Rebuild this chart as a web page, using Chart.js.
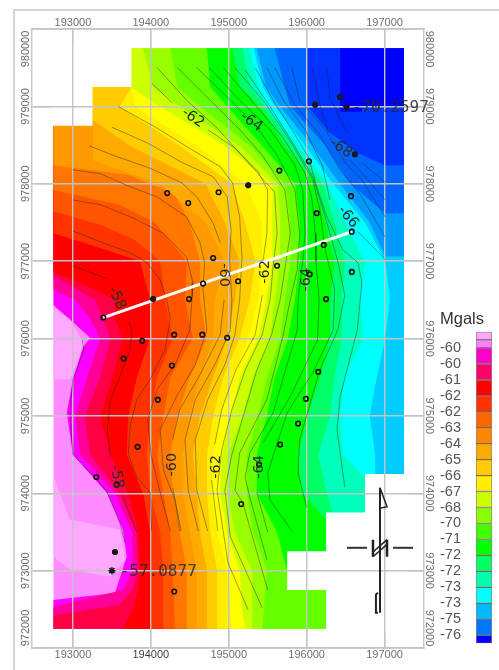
<!DOCTYPE html>
<html>
<head>
<meta charset="utf-8">
<title>Mgals contour map</title>
<script src="https://cdn.jsdelivr.net/npm/chart.js@4"></script>
<style>
    html, body { margin: 0; padding: 0; background: #fff; }
    #frame { position: absolute; left: 13px; top: 9px; width: 486px; height: 661px; border-top: 2px solid #d4d4d4; border-left: 2px solid #d4d4d4; box-sizing: border-box; filter: blur(0.4px); }
    canvas { position: absolute; filter: blur(0.45px); }
    #mapChart { left: 0; top: 0; }
    #scaleChart { left: 432px; top: 307px; }
</style>
</head>
<body>
<div id="frame"></div>
<canvas id="mapChart" width="499" height="670"></canvas>
<canvas id="scaleChart" width="67" height="352"></canvas>
<script>
const tickX = [193000, 194000, 195000, 196000, 197000];
const tickY = [972000, 973000, 974000, 975000, 976000, 977000, 978000, 979000, 980000];

// grid extent of the coloured surface
const west = 192750;
const east = 197250;
const north = 979750;
const south = 972250;

// colour bands, west to east: each edge is where that colour starts
const bandColors = ['#ff8cff', '#ff00ff', '#ff0099', '#ff0044', '#ff0000', '#ff3300', '#ff5500', '#ff7700', '#ff9900', '#ffaa00', '#ffcc00', '#ffee00', '#ffff00', '#ccff00', '#99ff00', '#66ff00', '#00ff00', '#00ff66', '#00ffbb', '#00ffff', '#00ccff', '#0099ff', '#0066ff', '#0033ff', '#0000ff'];

const edgePink = [[west, north], [west, south]];
const edgeMagenta = [[west, north], [west, 976430], [192960, 976250], [193220, 976010], [193130, 975890], [193000, 975470], [192920, 975040], [193000, 974500], [193440, 974000], [193640, 973530], [193690, 973180], [193540, 972710], [west, 972620], [west, south]];
const edgeRose = [[west, north], [west, 976630], [193030, 976500], [193220, 976250], [193350, 976000], [193180, 975500], [193030, 975000], [193090, 974500], [193540, 974000], [193760, 973500], [193770, 973000], [193640, 972750], [west, 972530], [west, south]];
const edgeCrimson = [[west, north], [west, 976810], [193280, 976500], [193390, 976250], [193480, 976000], [193350, 975500], [193150, 975000], [193220, 974500], [193600, 974000], [193810, 973500], [193840, 973000], [193760, 972750], [193600, 972560], [west, 972420], [west, south]];
const edgeRed = [[west, north], [west, 976860], [193150, 976690], [193540, 976500], [193540, 976250], [193640, 976000], [193510, 975500], [193350, 975000], [193480, 974500], [193710, 974000], [193840, 973500], [193860, 973000], [193840, 972750], [193770, 972500], [193640, south]];
const edgeVermilion = [[west, north], [west, 977360], [193350, 977170], [193860, 977000], [193990, 976500], [193990, 976000], [193820, 975500], [193710, 975000], [193690, 974500], [193900, 974000], [193990, 973500], [193990, south]];
const edgeOrange1 = [[west, north], [west, 977640], [193350, 977470], [193800, 977270], [194120, 977000], [194180, 976500], [194280, 976000], [194080, 975500], [193990, 975000], [193950, 974500], [193990, 974000], [194120, 973500], [194160, 973000], [194160, south]];
const edgeOrange2 = [[west, north], [west, 977920], [193600, 977730], [194050, 977500], [194460, 977000], [194440, 976500], [194540, 976000], [194250, 975500], [194160, 975000], [194080, 974500], [194160, 974000], [194250, 973500], [194280, 973000], [194310, south]];
const edgeOrange3 = [[west, north], [west, 978240], [193730, 978110], [194310, 977860], [194500, 977500], [194630, 977000], [194630, 976500], [194720, 976000], [194500, 975500], [194340, 975000], [194250, 974500], [194280, 974000], [194370, 973500], [194460, 973000], [194460, south]];
const edgeAmber1 = [[west, north], [west, 978750], [193260, 978740], [193260, 978300], [194120, 978000], [194700, 977500], [194950, 977000], [194820, 976500], [194800, 976000], [194630, 975500], [194500, 975000], [194410, 974500], [194410, 974000], [194500, 973500], [194590, 973000], [194590, south]];
const edgeAmber2 = [[west, north], [193260, 978820], [193730, 978490], [194700, 978000], [194950, 977500], [195140, 977000], [195080, 976500], [194980, 976000], [194800, 975500], [194630, 975000], [194540, 974500], [194590, 974000], [194630, 973500], [194720, 973000], [194720, south]];
const edgeAmber3 = [[west, north], [193750, 979250], [193600, 979000], [194370, 978490], [195040, 978000], [195210, 977500], [195340, 977000], [195270, 976500], [195140, 976000], [194930, 975500], [194800, 975000], [194720, 974500], [194720, 974000], [194760, 973500], [194850, 973000], [194850, south]];
const edgeYellow = [[west, north], [193750, 979240], [193800, 979000], [194590, 978490], [195210, 978000], [195430, 977500], [195430, 977000], [195380, 976500], [195250, 976000], [195050, 975500], [194890, 975000], [194800, 974500], [194780, 974000], [194850, 973500], [194980, 973000], [195020, 972500], [195040, south]];
const edgeLime1 = [[193750, north], [193750, 979240], [194120, 979000], [194950, 978490], [195560, 978000], [195560, 977000], [195480, 976500], [195380, 976000], [195140, 975500], [195020, 975000], [194910, 974500], [194890, 974000], [194980, 973500], [195140, 973000], [195170, 972500], [195210, south]];
const edgeLime2 = [[193900, north], [194030, 979250], [194370, 979000], [195140, 978490], [195630, 978000], [195660, 977500], [195660, 977000], [195590, 976500], [195530, 976000], [195310, 975500], [195180, 975000], [194990, 974500], [194980, 974000], [195080, 973500], [195300, 973000], [195300, south]];
const edgeLime3 = [[194250, north], [194340, 979250], [194630, 979000], [195270, 978490], [195720, 978000], [195790, 977500], [195790, 977000], [195720, 976500], [195660, 976000], [195490, 975500], [195380, 975000], [195230, 974500], [195230, 974000], [195310, 973500], [195490, 973000], [195430, south]];
const edgeGreen = [[194720, north], [194760, 979250], [194980, 979000], [195430, 978490], [195850, 978000], [195910, 977500], [195910, 977000], [195850, 976500], [195760, 976000], [195590, 975500], [195490, 975000], [195360, 974500], [195360, 974000], [195620, 973500], [195750, 973000], [196250, 972850], [196250, south]];
const edgeSpring = [[195050, north], [195140, 979250], [195400, 979000], [195720, 978490], [196110, 978000], [196240, 977500], [196360, 977000], [196300, 976500], [196300, 976000], [196170, 975500], [196010, 975000], [195890, 974500], [195940, 974000], [196250, 973660], [east, 973660]];
const edgeMint = [[195180, north], [195270, 979250], [195470, 979000], [195810, 978490], [196200, 978000], [196360, 977500], [196490, 977000], [196450, 976500], [196450, 976000], [196360, 975500], [196300, 975000], [196150, 974500], [196260, 974000], [196330, 973750], [east, 973700]];
const edgeCyan = [[195270, north], [195380, 979250], [195500, 979000], [195880, 978490], [196270, 978000], [196490, 977500], [196750, 977000], [196690, 976500], [196720, 976000], [196490, 975500], [196430, 975000], [196470, 974500], [196750, 974200], [east, 974200]];
const edgeSky = [[195320, north], [195440, 979250], [195590, 979000], [195980, 978490], [196340, 978000], [196750, 977500], [197010, 977000], [197070, 976500], [197010, 976000], [196900, 975500], [196810, 975000], [196880, 974500], [196880, 974200], [east, 974200]];
const edgeAzure = [[195360, north], [195480, 979250], [195660, 979000], [196070, 978490], [196430, 978000], [196810, 977500], [197010, 977060], [east, 977060]];
const edgeBlue1 = [[195590, north], [195720, 979250], [195790, 979000], [196240, 978490], [196560, 978000], [197010, 977620], [east, 977620]];
const edgeBlue2 = [[196010, north], [196010, 979000], [196300, 978660], [196650, 978400], [197010, 978240], [east, 978240]];
const edgeBlue3 = [[196430, north], [196430, 978930], [196710, 978930], [196710, 979000], [east, 979000]];
const bandEdges = [edgePink, edgeMagenta, edgeRose, edgeCrimson, edgeRed, edgeVermilion, edgeOrange1, edgeOrange2, edgeOrange3, edgeAmber1, edgeAmber2, edgeAmber3, edgeYellow, edgeLime1, edgeLime2, edgeLime3, edgeGreen, edgeSpring, edgeMint, edgeCyan, edgeSky, edgeAzure, edgeBlue1, edgeBlue2, edgeBlue3];

const lobeSouth = [[west, 974210], [192960, 973660], [193600, 973530], [193670, 973140], [193480, 972920], [192960, 973010], [west, 973180]];
const lobeNorth = [[west, 976400], [192960, 976250], [193150, 975920], [192960, 975470], [west, 975470]];

// cells with no data, a little oversize so no colour fringe is left along the surface edge
const blankNorthWest = [[192700, 979800], [193750, 979800], [193750, 979250], [193250, 979250], [193250, 978750], [192700, 978750]];
const blankSouthEast = [[197300, 974250], [196750, 974250], [196750, 973750], [196250, 973750], [196250, 973250], [195750, 973250], [195750, 972750], [196250, 972750], [196250, 972200], [197300, 972200]];

const contourLines = [
    [[193000, 976940], [193440, 976770]],
    [[193720, 976210], [193760, 976110], [193730, 975850], [193600, 975500], [193480, 975210], [193440, 974820], [193480, 974470]],
    [[193640, 973950], [193820, 973500]],
    [[193120, 975980], [193140, 975850], [193000, 975470], [192960, 975040], [193000, 974500], [193310, 974170], [193440, 974010], [193600, 973620], [193670, 973360]],
    [[193000, 977390], [193350, 977250], [193730, 977110], [193950, 976980], [194120, 976760], [194210, 976470], [194250, 976240], [194180, 975850], [193990, 975470], [193820, 975210], [193730, 974860], [193710, 974500], [193820, 974210], [193990, 974010], [194010, 973510]],
    [[193000, 977790], [193350, 977730], [193770, 977560], [194160, 977360], [194460, 977050], [194540, 976720], [194530, 976540], [194500, 976110], [194310, 975660], [194080, 975340], [193960, 974950], [194000, 974500], [194120, 974010], [194250, 973510]],
    [[193000, 978180], [193350, 978130], [193690, 977980], [194080, 977830], [194460, 977570], [194630, 977240], [194690, 976980], [194670, 976630], [194720, 976110], [194570, 975660], [194340, 975270], [194120, 974820], [194160, 974300], [194310, 973910], [194370, 973510]],
    [[193210, 978490], [193510, 978370], [193990, 978200], [194400, 978010], [194590, 977830], [194800, 977490], [194890, 977240]],
    [[194940, 976500], [194890, 976050], [194630, 975530], [194370, 975080], [194280, 974690]],
    [[194280, 974070], [194390, 973510]],
    [[193500, 978730], [193950, 978530], [194410, 978270], [194800, 978090], [194980, 977830], [195030, 977400], [195010, 977020], [195040, 976500], [195020, 976110], [194820, 975660], [194570, 975210], [194440, 974690], [194480, 974040], [194610, 973510]],
    [[193580, 979000], [194080, 978720], [194460, 978480], [194890, 978220], [195050, 978010], [195140, 977570], [195170, 977050], [195140, 976500], [195080, 976050], [194950, 975660], [194730, 975210], [194570, 974690], [194590, 974040], [194730, 973510]],
    [[194010, 979300], [194280, 979040]],
    [[194730, 978700], [195080, 978460], [195380, 978150], [195500, 977920], [195490, 977360], [195440, 977000]],
    [[195430, 976560], [195340, 976050], [195090, 975590], [194910, 975080], [194820, 974630]],
    [[194780, 974170], [194860, 973510]],
    [[194080, 979500], [194460, 979080], [194850, 978720], [195180, 978350], [195590, 977890], [195620, 977360], [195570, 976930], [195530, 976500], [195430, 976050], [195210, 975590], [195040, 975080], [194910, 974560], [194850, 974040], [194990, 973100], [195250, 972490]],
    [[194340, 979500], [194720, 979120], [195140, 978700], [195430, 978370], [195720, 977920], [195790, 977360], [195720, 976890], [195660, 976500], [195550, 976050], [195360, 975590], [195210, 975080], [195040, 974500], [194950, 974040], [195020, 973440], [195430, 972520]],
    [[194590, 979500], [194950, 979150], [195340, 978760], [195620, 978370], [195850, 977920], [195910, 977360], [195880, 976890], [195790, 976500], [195700, 976050], [195490, 975210], [195140, 974520], [195080, 974040], [195180, 973880], [195500, 972750]],
    [[194750, 979500], [195140, 979080], [195530, 978700], [195850, 978240], [195950, 977920], [195980, 977360], [195950, 977000], [195890, 976500], [195880, 976110], [195570, 975040], [195270, 974520], [195210, 974210], [195270, 973950], [195490, 973140]],
    [[194930, 979500], [195340, 979020], [195700, 978590], [195980, 978140], [196070, 977790], [196110, 977360], [196120, 977000], [196160, 976500], [196140, 975980], [195790, 975250], [195440, 974650]],
    [[195360, 974010], [195500, 973500]],
    [[195080, 979500], [195470, 979040], [195820, 978500], [196080, 978050], [196170, 977660], [196240, 977140], [196360, 976630], [196340, 976110], [196080, 975560], [195750, 975040], [195500, 974260], [195530, 973910], [195820, 973500]],
    [[195210, 979470], [195530, 979000], [195850, 978480], [196080, 978090], [196240, 977570], [196400, 977000], [196490, 976560], [196400, 976110], [196170, 975590], [195910, 974690], [195890, 974260], [196000, 973820]],
    [[195340, 979500], [195570, 979080], [195790, 978730], [196020, 978350], [196130, 977960], [196260, 977570], [196470, 977140], [196660, 976980], [196710, 976720], [196650, 976110], [196430, 975250], [196390, 974820], [196490, 974080]],
    [[195490, 979500], [195700, 979080], [195980, 978700], [196200, 978240], [196300, 977790]],
    [[196660, 977380], [197010, 977020]],
    [[195590, 979500], [195850, 979020], [196170, 978630], [196430, 978180], [196690, 977860], [197010, 977310]],
    [[195810, 979500], [195910, 979080], [196240, 978700], [196490, 978280], [196710, 978050], [197010, 977570]],
    [[196070, 979500], [196170, 979020], [196280, 978660]],
    [[196560, 978310], [197010, 977790]],
    [[196260, 979500], [196300, 979120], [196520, 978660]],
    [[196710, 978270], [197010, 978020]]
];

const profileLine = [[193390, 976270], [196580, 977380]];

const stationsOpen = [[194210, 977880], [194480, 977750], [194870, 977890], [194800, 977040], [194670, 976710], [195120, 976740], [194490, 976510], [193390, 976270], [196030, 978290], [195650, 978170], [196570, 977840], [196130, 977620], [196580, 977380], [196220, 977210], [195620, 976940], [196040, 976830], [196580, 976860], [196250, 976510], [193890, 975970], [194300, 976050], [194660, 976050], [194980, 976010], [193650, 975740], [194270, 975650], [194090, 975210], [193830, 974600], [193300, 974210], [193560, 974110], [195160, 973860], [194300, 972730], [196150, 975570], [195990, 975220], [195890, 974900], [195660, 974630], [195390, 974370]];
const stationsSolid = [[195250, 977980], [194030, 976510], [196110, 979020], [196430, 979120], [196620, 978380], [193540, 973240]];
const minStation = [[196510, 978990]];
const maxStation = [[193500, 973000]];

const contourText = ['-62', '-64', '-68', '-66', '-60', '-62', '-64', '-58', '-58', '-60', '-62', '-64'];
const contourTextX = [194540, 195290, 196440, 196530, 194930, 195470, 196000, 193560, 193560, 194280, 194840, 195390];
const contourTextY = [978850, 978800, 978460, 977570, 976820, 976860, 976760, 976520, 974210, 974370, 974340, 974340];
const contourTextAngle = [35, 35, 35, 50, 90, -90, -90, 65, 80, -90, -90, -90];

const extremeText = ['-70.2597', '-57.0877'];
const extremeTextX = [196580, 193600];
const extremeTextY = [978980, 972990];

// north arrow
const arrowShaft = [[196942, 974070], [196942, 972455]];
const arrowHead = [[196942, 974070], [197032, 973825], [196955, 973810]];
const arrowTail = [[196916, 972713], [196890, 972690], [196890, 972455], [196916, 972455]];
const arrowWest = [[196518, 973295], [196775, 973295]];
const arrowEast = [[197109, 973295], [197366, 973295]];
const letterLeft = [[196852, 973400], [196852, 973180]];
const letterRight = [[197032, 973400], [197032, 973180]];
const letterSlashA = [[196852, 973240], [197032, 973400]];
const letterSlashB = [[196852, 973180], [197032, 973340]];

const legendColors = ['#ffa6ff', '#ff80ff', '#ff00cc', '#ff0066', '#ff0000', '#ff3300', '#ff6600', '#ff8800', '#ffaa00', '#ffcc00', '#ffee00', '#ccff00', '#88ff00', '#44ff00', '#00ff00', '#00ff66', '#00ffaa', '#00ffff', '#00bbff', '#0077ff', '#0000ff'];
const legendSpans = [0.5, 0.5, 1, 1, 1, 1, 1, 1, 1, 1, 1, 1, 1, 1, 1, 1, 1, 1, 1, 1, 0.5];
const legendLabels = ['-60', '-60', '-61', '-62', '-62', '-63', '-64', '-65', '-66', '-67', '-68', '-70', '-71', '-72', '-72', '-73', '-73', '-75', '-76'];

const toPoints = (list) => list.map(([x, y]) => ({ x, y }));

function area(list, color) {
    return { data: toPoints(list), showLine: true, fill: 'shape', backgroundColor: color, borderColor: color, borderWidth: 0, pointRadius: 0 };
}

function band(edge, color) {
    const last = edge[edge.length - 1];
    return area([...edge, [east, last[1]], [east, north]], color);
}

function line(list, color, width) {
    return { data: toPoints(list), showLine: true, fill: false, borderColor: color, borderWidth: width, pointRadius: 0 };
}

function marks(list, style, radius, fillColor, edgeColor, edgeWidth, rotation) {
    return { data: toPoints(list), showLine: false, pointStyle: style, pointRadius: radius, pointRotation: rotation || 0, backgroundColor: fillColor, borderColor: edgeColor, pointBorderWidth: edgeWidth };
}

const fillLayers = [
    band(bandEdges[0], bandColors[0]),
    area(lobeSouth, '#ffa8ff'),
    area(lobeNorth, '#ffa8ff'),
    ...bandEdges.slice(1).map((edge, i) => band(edge, bandColors[i + 1])),
    area(blankNorthWest, '#ffffff'),
    area(blankSouthEast, '#ffffff')
];

const overlayLayers = [
    ...contourLines.map((c) => line(c, 'rgba(25, 25, 25, 0.62)', 0.65)),
    line(profileLine, '#ffffff', 3),
    marks(stationsOpen, 'circle', 2.3, 'rgba(255, 255, 255, 0)', '#111111', 1.6),
    marks(stationsSolid, 'circle', 2.7, '#1a1a1a', '#111111', 1),
    marks(minStation, 'triangle', 4, '#1a1a1a', '#111111', 1, 180),
    marks(maxStation, 'star', 3.5, '#1a1a1a', '#111111', 1.5),
    line(arrowShaft, '#222222', 2),
    line(arrowHead, '#222222', 1.5),
    line(arrowTail, '#222222', 2),
    line(arrowWest, '#333333', 2),
    line(arrowEast, '#333333', 2),
    line(letterLeft, '#222222', 2.5),
    line(letterRight, '#222222', 2.5),
    line(letterSlashA, '#222222', 1.5),
    line(letterSlashB, '#222222', 1.5)
];

// first dataset in the array is painted last, so order runs bottom-up here
const layers = [...fillLayers, ...overlayLayers];
layers.forEach((layer, index) => { layer.order = layers.length - index; });

const tickFont = { family: 'Liberation Sans', size: 11 };
const tickColor = '#6f6f6f';

const gridOnTop = {
    id: 'gridOnTop',
    beforeDatasetDraw(chart, args) {
        if (args.index === fillLayers.length) {
            chart.scales.x.drawGrid(chart.chartArea);
            chart.scales.y.drawGrid(chart.chartArea);
        }
    }
};

// the end labels of the y axes are pulled inside the frame, which ticks cannot do
const sideLabels = {
    id: 'sideLabels',
    afterDraw(chart) {
        const { ctx, chartArea, scales } = chart;
        ctx.save();
        ctx.font = "11px 'Liberation Sans'";
        ctx.fillStyle = tickColor;
        ctx.textAlign = 'center';
        ctx.textBaseline = 'middle';
        tickY.forEach((value) => {
            const pixel = Math.min(Math.max(scales.y.getPixelForValue(value), chartArea.top + 20), chartArea.bottom - 20);
            [[26, -Math.PI / 2], [429, Math.PI / 2]].forEach(([x, angle]) => {
                ctx.save();
                ctx.translate(x, pixel);
                ctx.rotate(angle);
                ctx.fillText(String(value), 0, 0);
                ctx.restore();
            });
        });
        ctx.restore();
    }
};

const mapText = {
    id: 'mapText',
    afterDatasetsDraw(chart) {
        const { ctx, scales } = chart;
        ctx.save();
        ctx.textBaseline = 'middle';
        ctx.textAlign = 'center';
        ctx.fillStyle = '#2b2b2b';
        ctx.font = "14.5px 'DejaVu Sans'";
        contourText.forEach((text, i) => {
            ctx.save();
            ctx.translate(scales.x.getPixelForValue(contourTextX[i]), scales.y.getPixelForValue(contourTextY[i]));
            ctx.rotate(contourTextAngle[i] * Math.PI / 180);
            ctx.fillText(text, 0, 0);
            ctx.restore();
        });
        ctx.textAlign = 'left';
        ctx.fillStyle = 'rgba(40, 40, 40, 0.85)';
        ctx.font = "16px 'DejaVu Sans Mono'";
        extremeText.forEach((text, i) => {
            ctx.fillText(text, scales.x.getPixelForValue(extremeTextX[i]), scales.y.getPixelForValue(extremeTextY[i]));
        });
        ctx.restore();
    }
};

const frameBorder = { display: true, color: '#c9c9c9', width: 1.5 };

function horizontalAxis(position, size, role) {
    return {
        type: 'linear',
        position,
        min: 192474,
        max: 197507,
        afterBuildTicks: (scale) => { scale.ticks = tickX.map((value) => ({ value })); },
        afterFit: (scale) => { scale.height = size; },
        border: frameBorder,
        grid: role === 'main' ? { color: '#c4c4c4', lineWidth: 1.4, drawTicks: false, z: -1 } : { display: false, drawTicks: false },
        ticks: {
            font: tickFont,
            color: (ctx) => (position === 'bottom' && ctx.tick.value === 194000 ? '#3f3f3f' : tickColor),
            padding: position === 'top' ? -1 : 0,
            maxRotation: 0,
            autoSkip: false,
            callback: (value) => String(value)
        }
    };
}

function verticalAxis(position, size, role) {
    return {
        type: 'linear',
        position,
        min: 972000,
        max: 980000,
        afterBuildTicks: (scale) => { scale.ticks = tickY.map((value) => ({ value })); },
        afterFit: (scale) => { scale.width = size; },
        border: frameBorder,
        grid: role === 'main' ? { color: '#c4c4c4', lineWidth: 1.4, drawTicks: false, z: -1 } : { display: false, drawTicks: false },
        ticks: { display: false }
    };
}

new Chart(document.getElementById('mapChart'), {
    type: 'scatter',
    data: { datasets: layers },
    options: {
        responsive: false,
        animation: false,
        layout: { padding: 0 },
        plugins: { legend: { display: false }, tooltip: { enabled: false } },
        scales: {
            x: horizontalAxis('bottom', 22, 'main'),
            xTop: horizontalAxis('top', 29, 'side'),
            y: verticalAxis('left', 32, 'main'),
            yRight: verticalAxis('right', 75, 'side')
        }
    },
    plugins: [gridOnTop, mapText, sideLabels]
});

new Chart(document.getElementById('scaleChart'), {
    type: 'bar',
    data: {
        labels: [''],
        datasets: legendColors.map((color, i) => ({
            data: [legendSpans[i]],
            backgroundColor: color,
            borderColor: 'rgba(60, 30, 40, 0.55)',
            borderWidth: 1,
            borderSkipped: false,
            barPercentage: 1,
            categoryPercentage: 1
        }))
    },
    options: {
        responsive: false,
        animation: false,
        layout: { autoPadding: false, padding: { right: 7 } },
        plugins: {
            legend: { display: false },
            tooltip: { enabled: false },
            title: { display: true, text: 'Mgals', align: 'center', color: '#333333', font: { family: 'Liberation Sans', size: 16.5, weight: 'normal' }, padding: { top: 3, bottom: 2 } }
        },
        scales: {
            x: { stacked: true, display: false },
            y: {
                stacked: true,
                reverse: true,
                min: 0,
                max: 19.5,
                afterBuildTicks: (scale) => { scale.ticks = legendLabels.map((_, i) => ({ value: i + 1 })); },
                afterFit: (scale) => { scale.width = 44; },
                border: { display: false },
                grid: { display: false },
                ticks: { font: { family: 'Liberation Sans', size: 14.5 }, color: '#555555', padding: 7, autoSkip: false, callback: (value) => legendLabels[value - 1] }
            }
        }
    }
});
</script>
</body>
</html>
